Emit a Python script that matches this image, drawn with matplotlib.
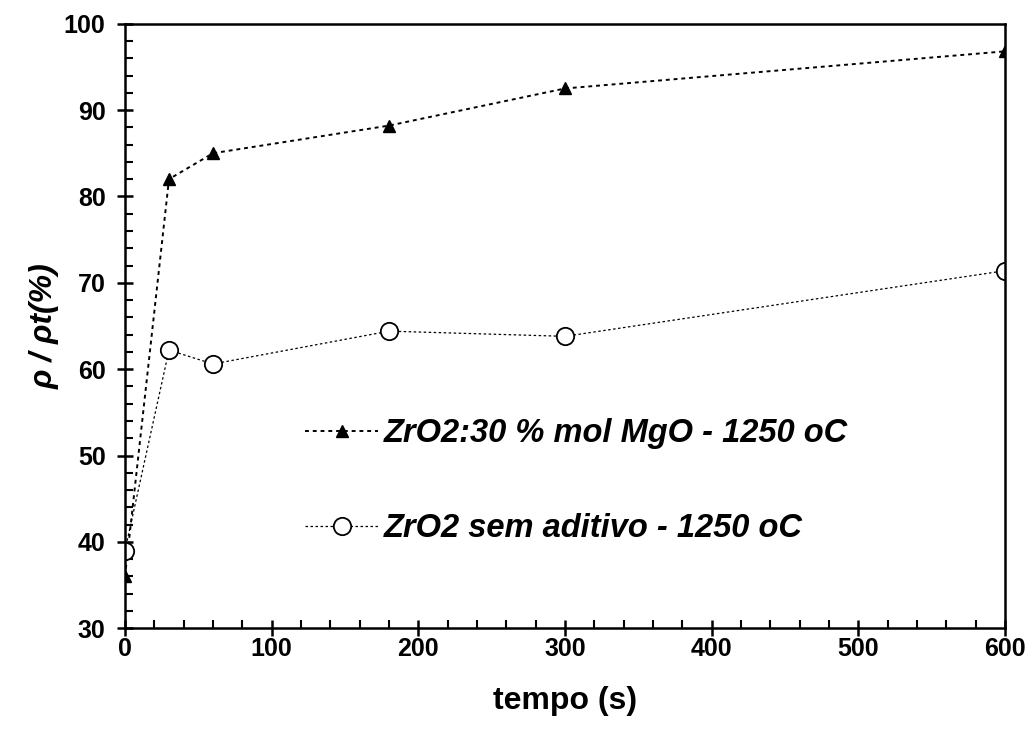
import matplotlib
matplotlib.use("Agg")
import matplotlib.pyplot as plt
from matplotlib.ticker import MultipleLocator

plt.rcParams['font.family'] = ['Liberation Sans', 'DejaVu Sans']

# data
tempo = [0, 30, 60, 180, 300, 600]
mgo = [36.0, 82.0, 85.0, 88.2, 92.5, 96.8]
sem_aditivo = [39.0, 62.2, 60.6, 64.4, 63.8, 71.4]
label_mgo = "ZrO2:30 % mol MgO - 1250 oC"
label_sem = "ZrO2 sem aditivo - 1250 oC"

fig = plt.figure(figsize=(10.33, 7.40), dpi=100)
ax = fig.add_axes([0.121, 0.151, 0.852, 0.817])

ax.plot(tempo, mgo, linestyle=(0, (2, 2)), color='black', lw=1.4,
        marker='^', markersize=8, markerfacecolor='black', label=label_mgo)
ax.plot(tempo, sem_aditivo, linestyle=(0, (2, 2)), color='black', lw=0.9,
        marker='o', markersize=12.5, markerfacecolor='white',
        markeredgewidth=1.3, label=label_sem)

ax.set_xlim(0, 600)
ax.set_ylim(30, 100)
ax.xaxis.set_major_locator(MultipleLocator(100))
ax.xaxis.set_minor_locator(MultipleLocator(20))
ax.yaxis.set_major_locator(MultipleLocator(10))
ax.yaxis.set_minor_locator(MultipleLocator(2))
ax.tick_params(which='major', direction='inout', length=12, width=1.8,
               labelsize=18, pad=8, top=False, right=False)
ax.tick_params(axis='x', which='major', pad=0)
ax.tick_params(which='minor', direction='in', length=6, width=1.5,
               top=False, right=False)
for lab in ax.get_xticklabels() + ax.get_yticklabels():
    lab.set_fontweight('bold')
for sp in ax.spines.values():
    sp.set_linewidth(1.8)

ax.set_xlabel("tempo (s)", fontsize=23, fontweight='bold', labelpad=18)
ax.set_ylabel("ρ / ρt(%)", fontsize=23, fontweight='bold', style='italic',
              labelpad=3)

leg = ax.legend(loc='upper left', bbox_to_anchor=(0.2045, 0.347),
                frameon=False, borderpad=0, borderaxespad=0,
                handlelength=2.25, handletextpad=0.15, labelspacing=1.95,
                prop={'size': 23.5, 'weight': 'bold', 'style': 'italic'})

fig.savefig("out.png", dpi=100)
